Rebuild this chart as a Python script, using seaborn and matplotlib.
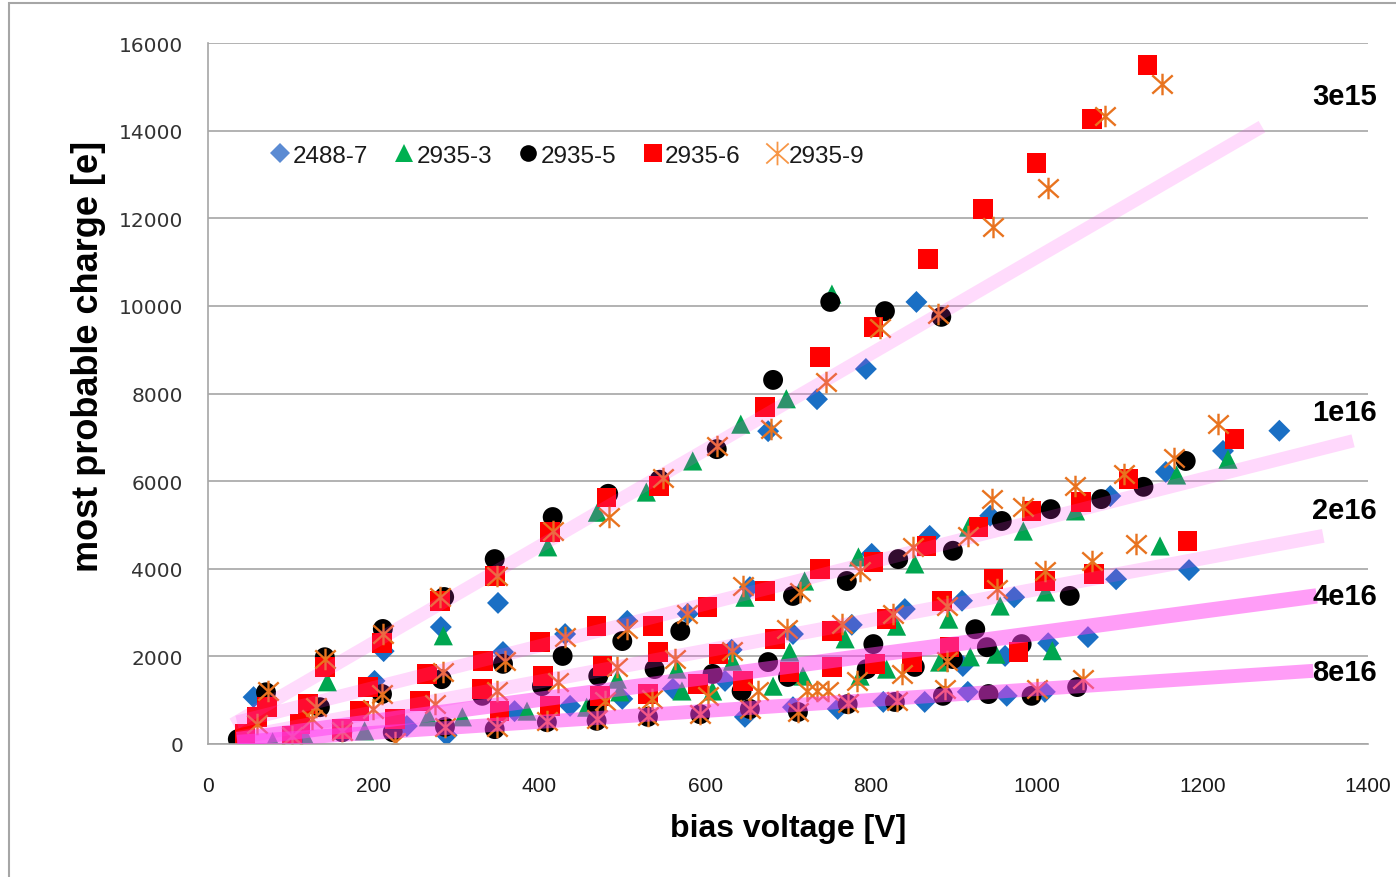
import matplotlib
matplotlib.use("Agg")
import matplotlib.pyplot as plt
from matplotlib.path import Path
from matplotlib.lines import Line2D
from matplotlib.patches import Rectangle
import pandas as pd
import seaborn as sns

# ---------------------------------------------------------------------------
# Data: bias voltage [V] and most probable charge [e] for each sensor.
# Points are listed fluence group by fluence group (3e15, 1e16, 2e16, 4e16, 8e16).
# ---------------------------------------------------------------------------
sensors = ["2488-7", "2935-3", "2935-5", "2935-6", "2935-9"]

volts_2488_7 = [55, 212, 281, 350, 676, 735, 794, 855,
                201, 356, 431, 506, 579, 654, 801, 871, 944, 1089, 1156, 1225, 1293,
                632, 706, 777, 841, 910, 973, 1096, 1184,
                240, 370, 437, 500, 561, 624, 911, 962, 1014, 1062,
                288, 648, 706, 760, 815, 865, 917, 964, 1010]
charge_2488_7 = [1070, 2120, 2670, 3220, 7140, 7870, 8560, 10090,
                 1440, 2100, 2510, 2810, 2970, 3580, 4340, 4750, 5210, 5660, 6210, 6690, 7150,
                 2150, 2510, 2720, 3080, 3270, 3350, 3760, 3970,
                 410, 750, 870, 1030, 1260, 1440, 1780, 2010, 2300, 2440,
                 200, 620, 840, 800, 960, 960, 1190, 1100, 1190]

volts_2935_3 = [70, 144, 284, 410, 470, 529, 585, 643, 698, 753,
                648, 720, 785, 853, 918, 984, 1047, 1169, 1231,
                494, 566, 633, 702, 769, 831, 894, 956, 1011, 1149,
                266, 307, 385, 457, 497, 572, 609, 682, 718, 787, 819, 883, 920, 951, 1019,
                78, 117, 189]
charge_2935_3 = [1050, 1420, 2470, 4500, 5290, 5750, 6460, 7300, 7880, 10270,
                 3350, 3720, 4270, 4110, 4950, 4860, 5320, 6140, 6500,
                 1480, 1710, 1890, 2100, 2400, 2690, 2850, 3150, 3470, 4520,
                 620, 620, 750, 840, 1190, 1210, 1210, 1320, 1550, 1550, 1710, 1870, 1990, 2050, 2130,
                 50, 180, 300]

volts_2935_5 = [70, 141, 211, 285, 346, 416, 483, 545, 614, 682, 751, 817, 885,
                135, 210, 282, 356, 428, 500, 570, 706, 771, 833, 899, 958, 1017, 1078, 1129, 1180,
                331, 403, 471, 539, 609, 676, 803, 926, 1040,
                469, 531, 644, 700, 795, 853, 899, 940, 982,
                36, 102, 162, 223, 286, 346, 409, 469, 531, 594, 654, 712, 772, 829, 887, 942, 994, 1049]
charge_2935_5 = [1180, 1980, 2625, 3355, 4220, 5180, 5710, 6030, 6730, 8310, 10090, 9880, 9750,
                 840, 1140, 1480, 1830, 2010, 2350, 2580, 3380, 3720, 4220, 4410, 5090, 5360, 5590, 5870, 6460,
                 1100, 1320, 1550, 1710, 1600, 1870, 2280, 2620, 3380,
                 870, 1140, 1210, 1530, 1710, 1760, 1940, 2210, 2280,
                 110, 70, 270, 270, 390, 340, 500, 530, 620, 680, 800, 730, 910, 960, 1100, 1140, 1100, 1300]

volts_2935_6 = [71, 141, 210, 280, 346, 413, 481, 544, 672, 739, 803, 869, 935, 1000, 1067, 1134,
                59, 121, 193, 264, 332, 401, 469, 537, 603, 672, 739, 803, 867, 930, 994, 1054, 1111, 1239,
                45, 111, 183, 256, 331, 404, 476, 543, 616, 684, 753, 819, 886, 948, 1010, 1069, 1182,
                101, 162, 226, 352, 413, 473, 531, 591, 646, 702, 753, 805, 850, 895, 978]
charge_2935_6 = [840, 1760, 2300, 3270, 3830, 4840, 5630, 5890, 7690, 8830, 9520, 11070, 12210, 13260, 14270, 15500,
                 620, 910, 1300, 1600, 1900, 2330, 2690, 2690, 3130, 3490, 4000, 4150, 4520, 4950, 5320, 5520, 6050, 6960,
                 230, 460, 750, 980, 1260, 1550, 1780, 2100, 2050, 2400, 2580, 2850, 3260, 3770, 3720, 3880, 4630,
                 180, 340, 570, 750, 870, 1100, 1140, 1370, 1440, 1640, 1760, 1830, 1870, 2210, 2100]

volts_2935_9 = [72, 141, 211, 280, 349, 416, 484, 549, 614, 680, 746, 811, 881, 947, 1014, 1083, 1151,
                59, 130, 210, 284, 358, 431, 506, 578, 646, 714, 787, 851, 917, 946, 984, 1046, 1105, 1166, 1219,
                125, 199, 274, 349, 422, 494, 564, 632, 699, 765, 827, 892, 952, 1010, 1067, 1120,
                479, 536, 603, 664, 723, 735, 748, 783, 837, 892,
                101, 162, 226, 286, 349, 409, 469, 531, 594, 654, 712, 772, 831, 889, 1000, 1056]
charge_2935_9 = [1200, 1940, 2510, 3350, 3830, 4860, 5180, 6070, 6800, 7190, 8260, 9500, 9820, 11800, 12690, 14340, 15070,
                 460, 840, 1140, 1640, 1900, 2440, 2630, 2970, 3610, 3470, 3950, 4490, 4750, 5590, 5410, 5890, 6160, 6530, 7300,
                 570, 800, 910, 1210, 1420, 1760, 1940, 2120, 2630, 2740, 2970, 3150, 3540, 3950, 4180, 4570,
                 980, 1030, 1100, 1210, 1210, 1210, 1210, 1440, 1600, 1900,
                 180, 300, 50, 390, 390, 520, 560, 650, 680, 800, 730, 930, 980, 1260, 1260, 1480]

# Linear trend bands per fluence (start and end point of each band)
fluences = ["3e15", "1e16", "2e16", "4e16", "8e16"]
fit_v_start = [30, 35, 35, 35, 35]
fit_q_start = [450, 500, 140, 100, 50]
fit_v_end = [1272, 1382, 1346, 1338, 1334]
fit_q_end = [14090, 6920, 4750, 3380, 1670]

# ---------------------------------------------------------------------------
# Styling
# ---------------------------------------------------------------------------
sns.set_style("white")
plt.rcParams["font.family"] = ["Liberation Sans", "DejaVu Sans"]

asterisk = Path(
    [(0, -1), (0, 1), (-0.95, -0.85), (0.95, 0.85), (-0.95, 0.85), (0.95, -0.85)],
    [Path.MOVETO, Path.LINETO] * 3,
)

series_style = {
    "2488-7": dict(marker="D", color="#1a6fc4", s=125, edgecolor="none", linewidth=0),
    "2935-3": dict(marker="^", color="#00a650", s=190, edgecolor="none", linewidth=0),
    "2935-5": dict(marker="o", color="#000000", s=205, edgecolor="none", linewidth=0),
    "2935-6": dict(marker="s", color="#ff0000", s=200, edgecolor="none", linewidth=0),
    "2935-9": dict(marker=asterisk, color="#e8731f", s=240, edgecolor="#e8731f", linewidth=1.7),
}

band_alpha = [0.18, 0.2, 0.2, 0.5, 0.5]
band_width = [9.5, 9.5, 10, 11, 10]

frames = {
    "2488-7": (volts_2488_7, charge_2488_7),
    "2935-3": (volts_2935_3, charge_2935_3),
    "2935-5": (volts_2935_5, charge_2935_5),
    "2935-6": (volts_2935_6, charge_2935_6),
    "2935-9": (volts_2935_9, charge_2935_9),
}

fig = plt.figure(figsize=(13.96, 8.78), dpi=100)
ax = fig.add_axes([208 / 1396, 133 / 878, 1160 / 1396, 701 / 878])

# outer chart border
fig.patches.append(Rectangle((9 / 1396, -0.02), 1.05, (878 - 4) / 878 + 0.02,
                             transform=fig.transFigure, fill=False,
                             edgecolor="#a6a6a6", linewidth=1.5))

for name in sensors:
    v, q = frames[name]
    df = pd.DataFrame({"bias voltage [V]": v, "most probable charge [e]": q})
    sns.scatterplot(data=df, x="bias voltage [V]", y="most probable charge [e]",
                    ax=ax, legend=False, zorder=2, **series_style[name])

for i, flu in enumerate(fluences):
    band = pd.DataFrame({"v": [fit_v_start[i], fit_v_end[i]],
                         "q": [fit_q_start[i], fit_q_end[i]]})
    sns.lineplot(data=band, x="v", y="q", ax=ax, color="#ff3cf0", alpha=band_alpha[i],
                 linewidth=band_width[i], solid_capstyle="butt", zorder=3)

# fluence labels next to the bands
label_v = 1372
label_q = [14790, 7580, 5340, 3380, 1640]
for flu, lq in zip(fluences, label_q):
    ax.text(label_v, lq, flu, ha="center", va="center", fontsize=21,
            fontweight="bold", color="black", clip_on=False, zorder=5)

# axes
ax.set_xlim(0, 1400)
ax.set_ylim(0, 16000)
ax.set_xticks(range(0, 1401, 200))
ax.set_yticks(range(0, 16001, 2000))
ax.yaxis.grid(True, color="#a6a6a6", linewidth=1.2)
ax.xaxis.grid(False)
ax.set_axisbelow(True)
for side in ["top", "right"]:
    ax.spines[side].set_visible(False)
for side in ["left", "bottom"]:
    ax.spines[side].set_color("#a6a6a6")
    ax.spines[side].set_linewidth(1.2)
ax.tick_params(axis="both", direction="out", length=7, width=1.2, color="#a6a6a6")
ax.tick_params(axis="y", pad=11, labelsize=14.5, labelcolor="#333333")
ax.tick_params(axis="x", pad=16, labelsize=15, labelcolor="#1a1a1a")
for lab in ax.get_yticklabels():
    lab.set_fontfamily(["DejaVu Sans"])
for lab in ax.get_xticklabels():
    lab.set_fontfamily(["Liberation Sans Narrow", "Liberation Sans"])

ax.set_xlabel("bias voltage [V]", fontsize=23, fontweight="bold", color="black")
ax.set_ylabel("most probable charge [e]", fontsize=26, fontweight="bold", color="black")
ax.xaxis.set_label_coords(0.5, -0.098)
ax.yaxis.set_label_coords(-0.088, 0.555)

# legend
handles = [
    Line2D([], [], ls="none", marker="D", ms=10, color="#5b8bd3", mew=0),
    Line2D([], [], ls="none", marker="^", ms=13, color="#00b050", mew=0),
    Line2D([], [], ls="none", marker="o", ms=12, color="#000000", mew=0),
    Line2D([], [], ls="none", marker="s", ms=13, color="#ff0000", mew=0),
    Line2D([], [], ls="none", marker=asterisk, ms=17, color="#f79646",
           markeredgecolor="#f79646", mew=1.3),
]
ax.legend(handles, sensors, loc="center left", bbox_to_anchor=(0.035, 0.839),
          ncol=5, frameon=False, fontsize=17.5, handlelength=0.8,
          handletextpad=0.1, columnspacing=1.1, labelcolor="#1a1a1a")

fig.savefig("out.png", dpi=100)
